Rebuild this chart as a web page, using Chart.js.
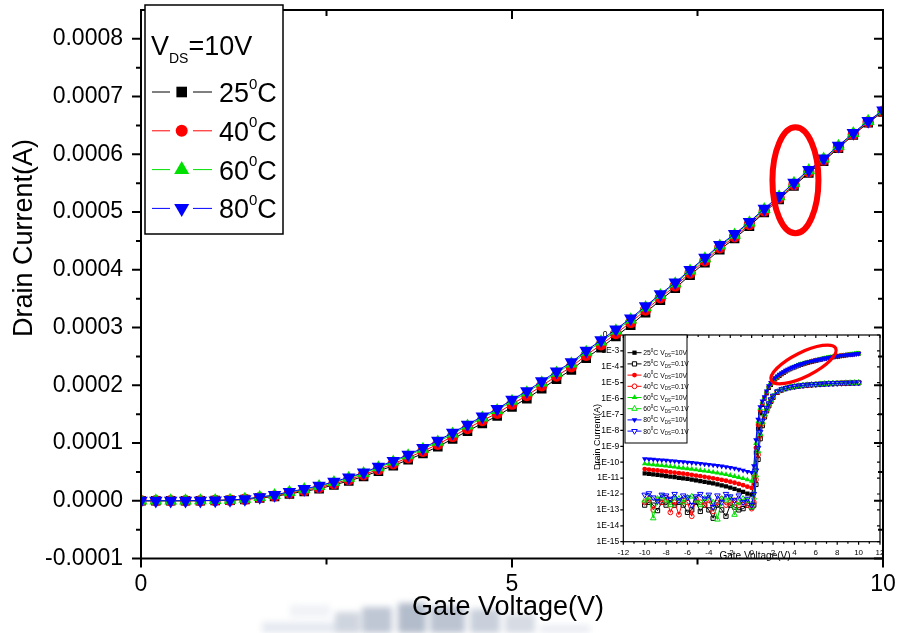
<!DOCTYPE html>
<html>
<head>
<meta charset="utf-8">
<title>Drain current vs gate voltage</title>
<script src="https://cdn.jsdelivr.net/npm/chart.js@4.4.1/dist/chart.umd.min.js"></script>
<style>
  html, body { margin: 0; padding: 0; background: #fff; }
  #wrap { position: relative; width: 897px; height: 633px; overflow: hidden; }
  #smudge { position: absolute; left: 0; top: 0; width: 897px; height: 633px; z-index: 1; filter: blur(3px); }
  #smudge span { position: absolute; display: block; }
  #inset { position: absolute; left: 591px; top: 330px; z-index: 2; }
  #main { position: absolute; left: 0; top: 0; z-index: 3; }
</style>
</head>
<body>
<div id="wrap">
  <div id="smudge">
    <span style="left:262px;top:622px;width:80px;height:11px;background:#e6eaf1"></span>
    <span style="left:290px;top:605px;width:40px;height:12px;background:#f0f2f6"></span>
    <span style="left:335px;top:612px;width:25px;height:21px;background:#cfd5df"></span>
    <span style="left:362px;top:607px;width:30px;height:26px;background:#bfc7d4"></span>
    <span style="left:398px;top:603px;width:28px;height:30px;background:#b3bccb"></span>
    <span style="left:430px;top:606px;width:35px;height:27px;background:#bcc4d2"></span>
    <span style="left:470px;top:609px;width:30px;height:24px;background:#c9d0db"></span>
    <span style="left:505px;top:614px;width:30px;height:19px;background:#d6dbe4"></span>
    <span style="left:540px;top:625px;width:50px;height:8px;background:#e9ecf2"></span>
  </div>
  <canvas id="inset" width="294" height="234" style="width:294px;height:234px"></canvas>
  <canvas id="main" width="897" height="633" style="width:897px;height:633px"></canvas>
</div>
<script>
// gate voltage sweep (V), drain current (A) at VDS = 10 V
const gateV = [0, 0.2, 0.4, 0.6, 0.8, 1, 1.2, 1.4, 1.6, 1.8, 2, 2.2, 2.4, 2.6, 2.8, 3, 3.2, 3.4, 3.6, 3.8,
  4, 4.2, 4.4, 4.6, 4.8, 5, 5.2, 5.4, 5.6, 5.8, 6, 6.2, 6.4, 6.6, 6.8, 7, 7.2, 7.4, 7.6, 7.8,
  8, 8.2, 8.4, 8.6, 8.8, 9, 9.2, 9.4, 9.6, 9.8, 10];

const id25 = [9e-13, 5e-12, 4e-10, 1.3e-8, 1.2e-7, 4e-7, 1.0e-6, 2.1e-6, 4.8e-6, 7.4e-6,
  1.20e-5, 1.62e-5, 2.08e-5, 2.73e-5, 3.43e-5, 4.21e-5, 5.14e-5, 6.07e-5, 7.10e-5, 8.18e-5,
  9.36e-5, 1.071e-4, 1.206e-4, 1.341e-4, 1.467e-4, 1.624e-4, 1.770e-4, 1.939e-4, 2.107e-4, 2.267e-4,
  2.469e-4, 2.652e-4, 2.847e-4, 3.042e-4, 3.258e-4, 3.474e-4, 3.681e-4, 3.908e-4, 4.123e-4, 4.349e-4,
  4.542e-4, 4.757e-4, 4.993e-4, 5.218e-4, 5.453e-4, 5.678e-4, 5.883e-4, 6.108e-4, 6.334e-4, 6.549e-4, 6.734e-4];
const id40 = [2.4e-12, 1.2e-11, 8e-10, 2.2e-8, 1.8e-7, 5e-7, 1.1e-6, 2.5e-6, 5.5e-6, 8.4e-6,
  1.34e-5, 1.79e-5, 2.29e-5, 2.96e-5, 3.68e-5, 4.49e-5, 5.44e-5, 6.40e-5, 7.46e-5, 8.57e-5,
  9.78e-5, 1.115e-4, 1.252e-4, 1.389e-4, 1.516e-4, 1.674e-4, 1.822e-4, 1.991e-4, 2.160e-4, 2.320e-4,
  2.521e-4, 2.703e-4, 2.896e-4, 3.089e-4, 3.303e-4, 3.516e-4, 3.721e-4, 3.945e-4, 4.158e-4, 4.381e-4,
  4.573e-4, 4.786e-4, 5.020e-4, 5.243e-4, 5.476e-4, 5.699e-4, 5.902e-4, 6.125e-4, 6.348e-4, 6.561e-4, 6.744e-4];
const id60 = [6.5e-12, 2.5e-11, 1.5e-9, 3.5e-8, 2.4e-7, 6e-7, 1.2e-6, 2.8e-6, 6.2e-6, 9.5e-6,
  1.48e-5, 1.96e-5, 2.50e-5, 3.19e-5, 3.93e-5, 4.76e-5, 5.75e-5, 6.73e-5, 7.82e-5, 8.96e-5,
  1.019e-4, 1.158e-4, 1.297e-4, 1.436e-4, 1.565e-4, 1.725e-4, 1.874e-4, 2.044e-4, 2.213e-4, 2.373e-4,
  2.574e-4, 2.754e-4, 2.945e-4, 3.136e-4, 3.348e-4, 3.559e-4, 3.760e-4, 3.982e-4, 4.193e-4, 4.414e-4,
  4.604e-4, 4.815e-4, 5.047e-4, 5.268e-4, 5.499e-4, 5.720e-4, 5.921e-4, 6.142e-4, 6.363e-4, 6.574e-4, 6.755e-4];
const id80 = [2.2e-11, 6e-11, 2.5e-9, 5e-8, 3e-7, 7e-7, 1.3e-6, 3.0e-6, 6.4e-6, 1.0e-5,
  1.55e-5, 2.05e-5, 2.60e-5, 3.30e-5, 4.05e-5, 4.90e-5, 5.90e-5, 6.90e-5, 8.00e-5, 9.15e-5,
  1.040e-4, 1.180e-4, 1.320e-4, 1.460e-4, 1.590e-4, 1.750e-4, 1.900e-4, 2.070e-4, 2.240e-4, 2.400e-4,
  2.600e-4, 2.780e-4, 2.970e-4, 3.160e-4, 3.370e-4, 3.580e-4, 3.780e-4, 4.000e-4, 4.210e-4, 4.430e-4,
  4.620e-4, 4.830e-4, 5.060e-4, 5.280e-4, 5.510e-4, 5.730e-4, 5.930e-4, 6.150e-4, 6.370e-4, 6.580e-4, 6.760e-4];

// negative gate sweep, off state
const offVg = [-10, -9.6, -9.2, -8.8, -8.4, -8, -7.6, -7.2, -6.8, -6.4, -6, -5.6, -5.2, -4.8, -4.4,
  -4, -3.6, -3.2, -2.8, -2.4, -2, -1.6, -1.2, -0.8, -0.4];
const off25 = [2.0e-11, 1.85e-11, 1.7e-11, 1.58e-11, 1.46e-11, 1.35e-11, 1.24e-11, 1.14e-11, 1.05e-11, 9.6e-12,
  8.8e-12, 8.0e-12, 7.2e-12, 6.5e-12, 5.8e-12, 5.2e-12, 4.6e-12, 4.0e-12, 3.5e-12, 3.0e-12,
  2.5e-12, 2.1e-12, 1.7e-12, 1.35e-12, 1.05e-12];
const off40 = [3.7e-11, 3.45e-11, 3.2e-11, 3.0e-11, 2.8e-11, 2.6e-11, 2.4e-11, 2.2e-11, 2.05e-11, 1.9e-11,
  1.75e-11, 1.6e-11, 1.45e-11, 1.32e-11, 1.2e-11, 1.08e-11, 9.7e-12, 8.7e-12, 7.7e-12, 6.8e-12,
  5.9e-12, 5.1e-12, 4.3e-12, 3.6e-12, 2.9e-12];
const off60 = [8.0e-11, 7.5e-11, 7.0e-11, 6.6e-11, 6.2e-11, 5.8e-11, 5.4e-11, 5.0e-11, 4.6e-11, 4.3e-11,
  4.0e-11, 3.7e-11, 3.4e-11, 3.1e-11, 2.85e-11, 2.6e-11, 2.35e-11, 2.1e-11, 1.9e-11, 1.7e-11,
  1.5e-11, 1.3e-11, 1.12e-11, 9.5e-12, 8.0e-12];
const off80 = [1.65e-10, 1.57e-10, 1.50e-10, 1.43e-10, 1.37e-10, 1.30e-10, 1.23e-10, 1.17e-10, 1.11e-10, 1.05e-10,
  9.8e-11, 9.3e-11, 8.7e-11, 8.2e-11, 7.7e-11, 7.1e-11, 6.6e-11, 6.1e-11, 5.6e-11, 5.1e-11,
  4.6e-11, 4.1e-11, 3.6e-11, 3.1e-11, 2.6e-11];

// VDS = 0.1 V, off state (noise floor)
const low25off = [2e-13, 3e-13, 2e-13, 9e-14, 3e-13, 2e-13, 4e-13, 2e-13, 3e-13, 2e-13,
  7e-14, 1e-13, 3e-13, 8e-14, 2e-13, 1e-13, 3e-14, 2e-13, 1e-13, 4e-14,
  2e-13, 1.5e-13, 1e-13, 1.2e-13, 2e-13];
const low40off = [3e-13, 5e-13, 1e-13, 4e-13, 3e-13, 6e-13, 7e-14, 3e-13, 5e-14, 4e-13,
  3e-13, 4e-14, 5e-13, 3e-13, 2e-13, 4e-13, 8e-14, 3e-13, 5e-13, 2e-13,
  3e-13, 4e-13, 2e-13, 3e-13, 2e-13];
const low60off = [4e-13, 6e-13, 3e-14, 5e-13, 7e-13, 4e-13, 2e-13, 6e-13, 5e-13, 3e-13,
  6e-13, 7e-13, 4e-13, 2e-13, 5e-13, 6e-13, 3e-13, 2.5e-14, 5e-13, 4e-13,
  6e-13, 5e-14, 3e-13, 5e-13, 4e-13];
const low80off = [9e-13, 1.1e-12, 6e-13, 3.5e-13, 9e-13, 8e-13, 5e-13, 1e-12, 4e-13, 8e-13,
  6e-13, 2e-13, 7e-13, 1e-12, 5e-13, 9e-13, 1.5e-13, 8e-13, 3e-13, 1e-12,
  7e-13, 4e-13, 8e-13, 3e-13, 5e-13];

// VDS = 0.1 V, positive gate sweep
const lowOnVg = [0, 0.2, 0.4, 0.6, 0.8, 1, 1.2, 1.4, 1.6, 1.8, 2, 2.4, 2.8, 3.2, 3.6, 4, 4.4, 4.8,
  5.2, 5.6, 6, 6.4, 6.8, 7.2, 7.6, 8, 8.4, 8.8, 9.2, 9.6, 10];
const low25on = [1.5e-13, 2e-13, 4e-12, 1.5e-10, 3e-9, 2e-8, 7e-8, 1.7e-7, 3.5e-7, 6.8e-7, 1.2e-6,
  2.5e-6, 3.5e-6, 4.3e-6, 5.0e-6, 5.6e-6, 6.1e-6, 6.6e-6, 7.0e-6, 7.4e-6, 7.7e-6,
  8.0e-6, 8.3e-6, 8.6e-6, 8.8e-6, 9.0e-6, 9.2e-6, 9.4e-6, 9.5e-6, 9.65e-6, 9.8e-6];
const low40on = [1.2e-13, 3e-13, 8e-12, 3e-10, 4.5e-9, 2.6e-8, 8.5e-8, 2.0e-7, 4.0e-7, 7.6e-7, 1.3e-6,
  2.6e-6, 3.6e-6, 4.4e-6, 5.1e-6, 5.7e-6, 6.2e-6, 6.7e-6, 7.1e-6, 7.5e-6, 7.8e-6,
  8.1e-6, 8.4e-6, 8.7e-6, 8.9e-6, 9.1e-6, 9.3e-6, 9.5e-6, 9.6e-6, 9.75e-6, 9.9e-6];
const low60on = [1.5e-13, 6e-13, 1.5e-11, 5e-10, 6e-9, 3.2e-8, 1.0e-7, 2.3e-7, 4.5e-7, 8.3e-7, 1.4e-6,
  2.7e-6, 3.7e-6, 4.5e-6, 5.2e-6, 5.8e-6, 6.3e-6, 6.8e-6, 7.2e-6, 7.6e-6, 7.9e-6,
  8.2e-6, 8.5e-6, 8.8e-6, 9.0e-6, 9.2e-6, 9.4e-6, 9.6e-6, 9.7e-6, 9.85e-6, 1.0e-5];
const low80on = [2e-13, 1e-12, 3e-11, 8e-10, 8e-9, 4e-8, 1.2e-7, 2.6e-7, 5e-7, 9e-7, 1.5e-6,
  2.8e-6, 3.8e-6, 4.6e-6, 5.3e-6, 5.9e-6, 6.4e-6, 6.9e-6, 7.3e-6, 7.7e-6, 8.0e-6,
  8.3e-6, 8.6e-6, 8.9e-6, 9.1e-6, 9.3e-6, 9.5e-6, 9.7e-6, 9.8e-6, 9.95e-6, 1.01e-5];

const tempLabels = ['25', '40', '60', '80'];
const yTicks = [-0.0001, 0, 0.0001, 0.0002, 0.0003, 0.0004, 0.0005, 0.0006, 0.0007, 0.0008];
const xTicks = [0, 5, 10];
const insetXTicks = [-12, -10, -8, -6, -4, -2, 0, 2, 4, 6, 8, 10, 12];
const insetYTicks = [1e-15, 1e-14, 1e-13, 1e-12, 1e-11, 1e-10, 1e-9, 1e-8, 1e-7, 1e-6, 1e-5, 1e-4, 1e-3, 1e-2];
const insetYLabels = ['1E-15', '1E-14', '1E-13', '1E-12', '1E-11', '1E-10', '1E-9', '1E-8', '1E-7',
  '1E-6', '1E-5', '1E-4', '1E-3', '0.01'];

const FONT = "'Liberation Sans', Arial, Helvetica, sans-serif";
const colors = ['#000000', '#ff0000', '#00e000', '#0000ff'];
const styles = [
  { pointStyle: 'rect', rotation: 0, r: 6.8, lr: 7.5, ir: 3 },
  { pointStyle: 'circle', rotation: 0, r: 5.7, lr: 6, ir: 2.4 },
  { pointStyle: 'triangle', rotation: 0, r: 7.4, lr: 8.7, ir: 3.2 },
  { pointStyle: 'triangle', rotation: 180, r: 7.8, lr: 8.7, ir: 3.2 }
];

const xy = (xs, ys) => xs.map((x, i) => ({ x: x, y: ys[i] }));

function drawMarker(ctx, style, x, y, r, rot, fill, stroke, lw) {
  ctx.beginPath();
  if (style === 'circle') {
    ctx.arc(x, y, r, 0, Math.PI * 2);
  } else if (style === 'rect') {
    const s = r * Math.SQRT1_2;
    ctx.rect(x - s, y - s, 2 * s, 2 * s);
  } else {
    let a = rot * Math.PI / 180;
    for (let k = 0; k < 3; k++) {
      const px = x + Math.sin(a) * r, py = y - Math.cos(a) * r;
      if (k) ctx.lineTo(px, py); else ctx.moveTo(px, py);
      a += 2 * Math.PI / 3;
    }
    ctx.closePath();
  }
  if (fill) { ctx.fillStyle = fill; ctx.fill(); }
  if (lw) { ctx.lineWidth = lw; ctx.strokeStyle = stroke; ctx.stroke(); }
}

// text made of runs, for sub- and superscripts
function drawRuns(ctx, x, y, runs) {
  ctx.textAlign = 'left';
  ctx.textBaseline = 'alphabetic';
  runs.forEach(r => {
    ctx.font = r.size + 'px ' + FONT;
    ctx.fillText(r.text, x, y + (r.dy || 0));
    x += ctx.measureText(r.text).width;
  });
}

function ring(chart, m) {
  const ctx = chart.ctx;
  const cx = chart.scales.x.getPixelForValue(m.x);
  const cy = chart.scales.y.getPixelForValue(m.y);
  ctx.save();
  ctx.strokeStyle = '#ff0000';
  ctx.lineWidth = m.width;
  ctx.beginPath();
  ctx.ellipse(cx, cy, m.rx, m.ry, m.angle * Math.PI / 180, 0, Math.PI * 2);
  ctx.stroke();
  ctx.restore();
}

// keep the plot box fixed: no extra room for overhanging end labels
const noPad = s => { s.paddingLeft = 0; s.paddingRight = 0; s.paddingTop = 0; s.paddingBottom = 0; };

const mainRing = { x: 8.82, y: 5.55e-4, rx: 23, ry: 53, angle: 0, width: 6 };
const insetRing = { x: 4.85, y: 1.4e-4, rx: 36, ry: 12, angle: -26.6, width: 3.3 };

/* ---------- main linear plot ---------- */
const mainSets = [id25, id40, id60, id80].map((arr, k) => ({
  label: tempLabels[k],
  data: xy(gateV, arr),
  order: 3 - k,
  borderColor: colors[k],
  borderWidth: 1,
  pointStyle: styles[k].pointStyle,
  pointRotation: styles[k].rotation,
  pointRadius: styles[k].r,
  pointBackgroundColor: colors[k],
  pointBorderWidth: 0,
  clip: 0,
  tension: 0
}));

const mainFrame = {
  id: 'mainFrame',
  afterDraw(chart) {
    const ctx = chart.ctx, a = chart.chartArea;
    const sx = chart.scales.x, sy = chart.scales.y;
    ctx.save();
    ctx.strokeStyle = '#000';
    ctx.lineWidth = 2;
    ctx.strokeRect(a.left, a.top, a.right - a.left, a.bottom - a.top);
    ctx.beginPath();
    yTicks.forEach((v, i) => {
      const p = sy.getPixelForValue(v);
      ctx.moveTo(a.left - 9, p); ctx.lineTo(a.left, p);
      ctx.moveTo(a.right - 9, p); ctx.lineTo(a.right, p);
      if (i < yTicks.length - 1) {
        const m = sy.getPixelForValue((v + yTicks[i + 1]) / 2);
        ctx.moveTo(a.left - 5, m); ctx.lineTo(a.left, m);
        ctx.moveTo(a.right - 5, m); ctx.lineTo(a.right, m);
      }
    });
    xTicks.forEach((v, i) => {
      const p = sx.getPixelForValue(v);
      ctx.moveTo(p, a.bottom); ctx.lineTo(p, a.bottom + 9);
      ctx.moveTo(p, a.top); ctx.lineTo(p, a.top + 9);
      if (i < xTicks.length - 1) {
        const m = sx.getPixelForValue((v + xTicks[i + 1]) / 2);
        ctx.moveTo(m, a.bottom); ctx.lineTo(m, a.bottom + 6);
        ctx.moveTo(m, a.top); ctx.lineTo(m, a.top + 6);
      }
    });
    ctx.stroke();

    // axis titles
    ctx.fillStyle = '#000';
    ctx.font = '27px ' + FONT;
    ctx.textAlign = 'center';
    ctx.textBaseline = 'middle';
    ctx.fillText('Gate Voltage(V)', 508, 608);
    ctx.translate(25, 238);
    ctx.rotate(-Math.PI / 2);
    ctx.fillText('Drain Current(A)', 0, 0);
    ctx.restore();
  }
};

const mainLegend = {
  id: 'mainLegend',
  afterDraw(chart) {
    const ctx = chart.ctx;
    ctx.save();
    ctx.fillStyle = '#fff';
    ctx.fillRect(145, 5, 138, 229);
    ctx.strokeStyle = '#000';
    ctx.lineWidth = 1.5;
    ctx.strokeRect(145, 5, 138, 229);
    ctx.fillStyle = '#000';
    drawRuns(ctx, 151, 55, [{ text: 'V', size: 27 }, { text: 'DS', size: 14, dy: 8 }, { text: '=10V', size: 27 }]);
    chart.data.datasets.forEach((ds, k) => {
      const cy = 92 + k * 38.8;
      ctx.strokeStyle = ds.borderColor;
      ctx.lineWidth = 1;
      ctx.beginPath();
      ctx.moveTo(152, cy); ctx.lineTo(170, cy);
      ctx.moveTo(193, cy); ctx.lineTo(212, cy);
      ctx.stroke();
      drawMarker(ctx, ds.pointStyle, 181.7, cy, styles[k].lr, ds.pointRotation, ds.pointBackgroundColor);
      ctx.fillStyle = '#000';
      drawRuns(ctx, 219, cy + 10, [{ text: ds.label, size: 27 }, { text: '0', size: 15, dy: -13.5 }, { text: 'C', size: 27 }]);
    });
    ctx.restore();
  }
};

new Chart(document.getElementById('main'), {
  type: 'line',
  data: { datasets: mainSets },
  options: {
    responsive: false,
    animation: false,
    events: [],
    layout: { padding: { left: 0, right: 14, top: 10, bottom: 0 } },
    plugins: { legend: { display: false }, tooltip: { enabled: false } },
    scales: {
      x: {
        type: 'linear', min: 0, max: 10,
        grid: { display: false, drawTicks: false },
        border: { display: false },
        afterBuildTicks: s => { s.ticks = xTicks.map(v => ({ value: v })); },
        afterFit: s => { s.height = 74.5; noPad(s); },
        ticks: { padding: 12, color: '#000', autoSkip: false, maxRotation: 0, font: { family: FONT, size: 23 }, callback: v => String(v) }
      },
      y: {
        type: 'linear', min: -0.0001, max: 0.00085,
        grid: { display: false, drawTicks: false },
        border: { display: false },
        afterBuildTicks: s => { s.ticks = yTicks.map(v => ({ value: v })); },
        afterFit: s => { s.width = 141; noPad(s); },
        ticks: { padding: 18, color: '#000', autoSkip: false, font: { family: FONT, size: 23 }, callback: v => v.toFixed(4) }
      }
    }
  },
  plugins: [{ id: 'mainRing', afterDatasetsDraw: c => ring(c, mainRing) }, mainFrame, mainLegend]
});

/* ---------- inset: log transfer curves ---------- */
const insetSets = [];
[[off25, id25, low25off, low25on], [off40, id40, low40off, low40on],
 [off60, id60, low60off, low60on], [off80, id80, low80off, low80on]].forEach((g, k) => {
  const base = {
    borderColor: colors[k], borderWidth: 1, tension: 0, clip: 0,
    pointStyle: styles[k].pointStyle, pointRotation: styles[k].rotation, pointRadius: styles[k].ir
  };
  insetSets.push(Object.assign({}, base, {
    label: tempLabels[k], vds: '10V', order: 7 - 2 * k,
    data: xy(offVg.concat(gateV), g[0].concat(g[1])),
    pointBackgroundColor: colors[k], pointBorderWidth: 0
  }));
  insetSets.push(Object.assign({}, base, {
    label: tempLabels[k], vds: '0.1V', order: 6 - 2 * k,
    data: xy(offVg.concat(lowOnVg), g[2].concat(g[3])),
    pointBackgroundColor: 'rgba(255,255,255,0)', pointBorderColor: colors[k], pointBorderWidth: 1
  }));
});

const insetFrame = {
  id: 'insetFrame',
  beforeDraw(chart) {
    const ctx = chart.ctx;
    ctx.save();
    ctx.fillStyle = '#fff';
    ctx.fillRect(0, 0, chart.width, chart.height);
    ctx.restore();
  },
  afterDraw(chart) {
    const ctx = chart.ctx, a = chart.chartArea;
    const sx = chart.scales.x, sy = chart.scales.y;
    ctx.save();
    ctx.strokeStyle = '#000';
    ctx.lineWidth = 1.2;
    ctx.strokeRect(a.left, a.top, a.right - a.left, a.bottom - a.top);
    ctx.beginPath();
    insetYTicks.forEach(v => {
      const p = sy.getPixelForValue(v);
      ctx.moveTo(a.left - 3, p); ctx.lineTo(a.left, p);
      ctx.moveTo(a.right - 3, p); ctx.lineTo(a.right, p);
    });
    insetXTicks.forEach((v, i) => {
      const p = sx.getPixelForValue(v);
      ctx.moveTo(p, a.bottom); ctx.lineTo(p, a.bottom + 3);
      ctx.moveTo(p, a.top); ctx.lineTo(p, a.top + 3);
      if (i < insetXTicks.length - 1) {
        const m = sx.getPixelForValue(v + 1);
        ctx.moveTo(m, a.bottom); ctx.lineTo(m, a.bottom + 2);
        ctx.moveTo(m, a.top); ctx.lineTo(m, a.top + 2);
      }
    });
    ctx.stroke();

    ctx.fillStyle = '#000';
    ctx.textAlign = 'center';
    ctx.textBaseline = 'middle';
    ctx.font = '10px ' + FONT;
    ctx.fillText('Gate Voltage(V)', 164, 226);
    ctx.save();
    ctx.translate(7, 107);
    ctx.rotate(-Math.PI / 2);
    ctx.font = '9px ' + FONT;
    ctx.fillText('Drain Current(A)', 0, 0);
    ctx.restore();

    // legend
    ctx.fillStyle = '#fff';
    ctx.fillRect(34, 5, 62, 108);
    ctx.strokeStyle = '#000';
    ctx.lineWidth = 1;
    ctx.strokeRect(34, 5, 62, 108);
    chart.data.datasets.forEach((ds, k) => {
      const cy = 22.7 + k * 11.2;
      const s = styles[Math.floor(k / 2)];
      ctx.strokeStyle = ds.borderColor;
      ctx.lineWidth = 1;
      ctx.beginPath();
      ctx.moveTo(36.5, cy); ctx.lineTo(50.5, cy);
      ctx.stroke();
      if (ds.vds === '10V') drawMarker(ctx, s.pointStyle, 43.5, cy, s.ir, s.rotation, ds.borderColor);
      else drawMarker(ctx, s.pointStyle, 43.5, cy, s.ir, s.rotation, '#fff', ds.borderColor, 1);
      ctx.fillStyle = '#000';
      drawRuns(ctx, 52.3, cy + 2.5, [
        { text: ds.label, size: 6.8 }, { text: '0', size: 4.5, dy: -3.3 }, { text: 'C V', size: 6.8 },
        { text: 'DS', size: 4.5, dy: 1.5 }, { text: '=' + ds.vds, size: 6.8 }
      ]);
    });
    ctx.restore();
  }
};

new Chart(document.getElementById('inset'), {
  type: 'line',
  data: { datasets: insetSets },
  options: {
    responsive: false,
    animation: false,
    events: [],
    layout: { padding: { left: 0, right: 1.7, top: 4, bottom: 0 } },
    plugins: { legend: { display: false }, tooltip: { enabled: false } },
    scales: {
      x: {
        type: 'linear', min: -12, max: 12,
        grid: { display: false, drawTicks: false },
        border: { display: false },
        afterBuildTicks: s => { s.ticks = insetXTicks.map(v => ({ value: v })); },
        afterFit: s => { s.height = 22.3; noPad(s); },
        ticks: { padding: 6, color: '#000', autoSkip: false, maxRotation: 0, font: { family: FONT, size: 8 }, callback: v => String(v) }
      },
      y: {
        type: 'logarithmic', min: 1e-15, max: 1e-2,
        grid: { display: false, drawTicks: false },
        border: { display: false },
        afterBuildTicks: s => { s.ticks = insetYTicks.map(v => ({ value: v })); },
        afterFit: s => { s.width = 32.3; noPad(s); },
        ticks: { padding: 4, color: '#000', autoSkip: false, font: { family: FONT, size: 8.5 }, callback: (v, i) => insetYLabels[i] }
      }
    }
  },
  plugins: [{ id: 'insetRing', afterDatasetsDraw: c => ring(c, insetRing) }, insetFrame]
});
</script>
</body>
</html>
